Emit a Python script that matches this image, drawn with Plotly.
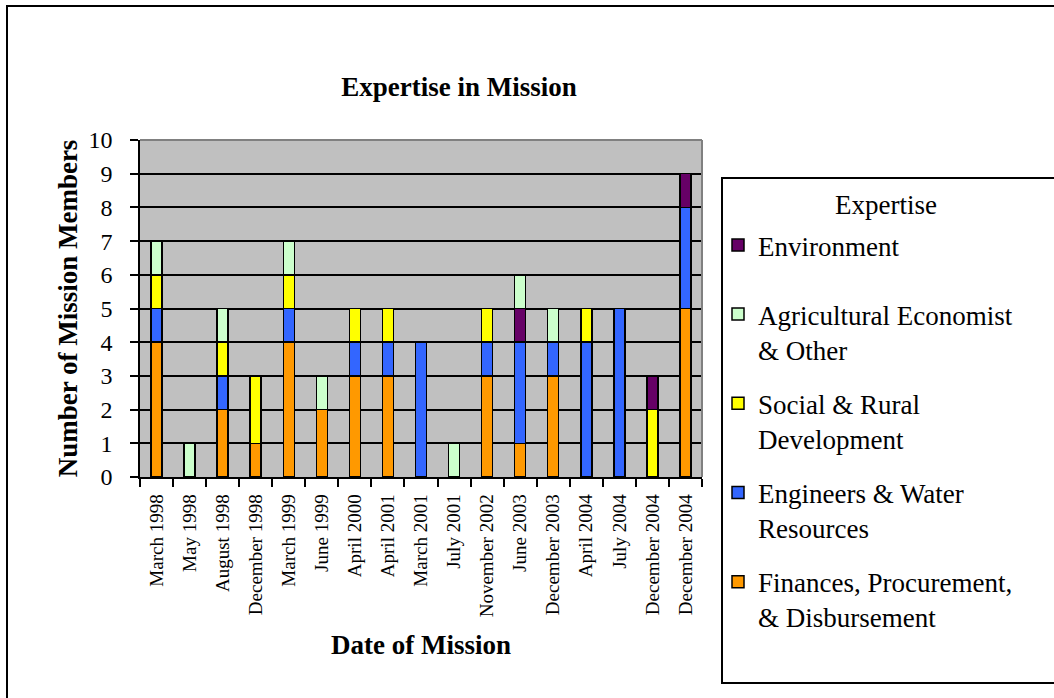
import plotly.graph_objects as go

categories = ["March 1998", "May 1998", "August 1998", "December 1998", "March 1999",
              "June 1999", "April 2000", "April 2001", "March 2001", "July 2001",
              "November 2002", "June 2003", "December 2003", "April 2004", "July 2004",
              "December 2004", "December 2004"]

finances = [4, 0, 2, 1, 4, 2, 3, 3, 0, 0, 3, 1, 3, 0, 0, 0, 5]
engineers = [1, 0, 1, 0, 1, 0, 1, 1, 4, 0, 1, 3, 1, 4, 5, 0, 3]
social = [1, 0, 1, 2, 1, 0, 1, 1, 0, 0, 1, 0, 0, 1, 0, 2, 0]
environment = [0, 0, 0, 0, 0, 0, 0, 0, 0, 0, 0, 1, 0, 0, 0, 1, 1]
agricultural = [1, 1, 1, 0, 1, 1, 0, 0, 0, 1, 0, 1, 1, 0, 0, 0, 0]

y_ticks = list(range(0, 11))

x_pos = list(range(len(categories)))

FONT = "Liberation Serif, Times New Roman, serif"

# stacking order bottom -> top, with legend rank (top of legend = 1)
series = [
    ("Finances, Procurement,<br>& Disbursement", finances, "#FF9900", 5, "legend"),
    ("Engineers & Water<br>Resources", engineers, "#3366FF", 4, "legend"),
    ("Social & Rural<br>Development", social, "#FFFF00", 3, "legend"),
    ("Environment", environment, "#660066", 1, "legend2"),
    ("Agricultural Economist<br>& Other", agricultural, "#CCFFCC", 2, "legend"),
]

fig = go.Figure()
for name, vals, color, rank, leg in series:
    fig.add_trace(go.Bar(
        x=x_pos, y=vals, name=name,
        marker=dict(color=color, line=dict(color="black", width=1.5)),
        legendrank=rank, legendgroup=name, legend=leg,
    ))

W, H = 1054, 698
L, R, T, B = 140, 702, 140, 477

def px(x):
    return (x - L) / (R - L)

def py(y):
    return (B - y) / (B - T)

legend_common = dict(
    xanchor="left", yanchor="top",
    bgcolor="rgba(0,0,0,0)", borderwidth=0,
    font=dict(size=27, family=FONT, color="black"),
    traceorder="grouped", tracegroupgap=16, valign="top",
    itemclick=False, itemdoubleclick=False,
    maxheight=650,
)

fig.update_layout(
    width=W, height=H,
    barmode="stack", bargap=0.667,
    paper_bgcolor="white", plot_bgcolor="#C0C0C0",
    margin=dict(l=L, r=W - R, t=T, b=H - B, autoexpand=False),
    font=dict(family=FONT, color="black"),
    title=dict(text="<b>Expertise in Mission</b>", x=459 / W, xanchor="center",
               y=1 - 87 / H, yanchor="middle", xref="container", yref="container",
               font=dict(size=27, family=FONT, color="black")),
    showlegend=True,
    legend=dict(x=px(718), y=py(290), **legend_common),
    legend2=dict(x=px(718), y=py(221), **legend_common),
    annotations=[
        dict(text="Expertise", xref="paper", yref="paper", x=px(886), y=py(205),
             xanchor="center", yanchor="middle", showarrow=False,
             font=dict(size=27, family=FONT, color="black")),
    ],
    xaxis=dict(
        range=[-0.5, len(categories) - 0.5],
        tickmode="array", tickvals=x_pos, ticktext=categories,
        tickangle=-90, ticks="", ticklabelstandoff=8,
        tickfont=dict(size=19, family=FONT, color="black"),
        showline=True, linecolor="black", linewidth=1.5,
        showgrid=False, zeroline=False,
        minor=dict(ticks="outside", tickmode="linear", tick0=-0.5, dtick=1,
                   ticklen=8, tickwidth=1.5, tickcolor="black", showgrid=False),
        title=dict(text="<b>Date of Mission</b>", font=dict(size=27, family=FONT), standoff=19),
        fixedrange=True,
    ),
    yaxis=dict(
        range=[0, 10], tickmode="array", tickvals=y_ticks,
        ticks="outside", ticklen=8, tickwidth=1.5, tickcolor="black",
        tickfont=dict(size=24, family=FONT, color="black"),
        ticklabelstandoff=13,
        showline=True, linecolor="black", linewidth=1.5,
        showgrid=True, gridcolor="black", gridwidth=1.5, zeroline=False,
        title=dict(text="<b>Number of Mission Members</b>", font=dict(size=27, family=FONT), standoff=3),
        fixedrange=True,
    ),
    shapes=[
        # outer frame
        dict(type="rect", xref="paper", yref="paper",
             x0=px(7), x1=px(1070), y0=py(6), y1=py(710),
             line=dict(color="black", width=2), fillcolor="rgba(0,0,0,0)", layer="above"),
        # legend box
        dict(type="rect", xref="paper", yref="paper",
             x0=px(722), x1=px(1070), y0=py(178), y1=py(683),
             line=dict(color="black", width=2), fillcolor="rgba(0,0,0,0)", layer="above"),
        # grey top and right plot borders
        dict(type="line", xref="paper", yref="paper", x0=0, x1=1, y0=1, y1=1,
             line=dict(color="#808080", width=2), layer="above"),
        dict(type="line", xref="paper", yref="paper", x0=1, x1=1, y0=0, y1=1,
             line=dict(color="#808080", width=2), layer="above"),
    ],
)

fig.write_html("out.html", config={"displayModeBar": False},
               post_script="document.body.style.margin='0';document.body.style.overflow='hidden';")
